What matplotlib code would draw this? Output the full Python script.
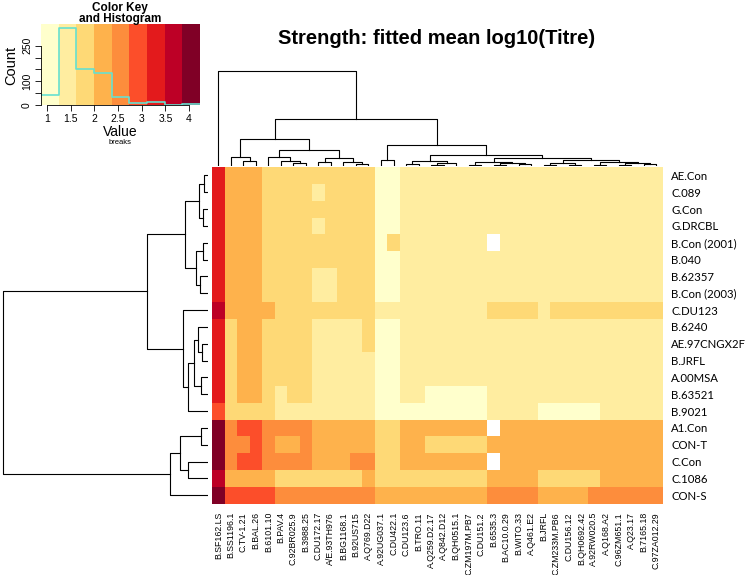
import numpy as np
import matplotlib
matplotlib.use("Agg")
import matplotlib.pyplot as plt
from matplotlib.colors import ListedColormap, BoundaryNorm

nan = np.nan

col_labels = ["B.SF162.LS", "B.SS1196.1", "C.TV-1.21", "B.BAL.26", "B.6101.10", "B.PAV.4",
              "C.92BR025.9", "B.3988.25", "C.DU172.17", "A/E.93TH976", "B.BG1168.1", "B.92US715",
              "A.Q769.D22", "A.92UG037.1", "C.DU422.1", "C.DU123.6", "B.TRO.11", "A.Q259.D2.17",
              "A.Q842.D12", "B.QH0515.1", "C.ZM197M.PB7", "C.DU151.2", "B.6535.3", "B.AC10.0.29",
              "B.WITO.33", "A.Q461.E2", "B.JRFL", "C.ZM233M.PB6", "C.DU156.12", "B.QH0692.42",
              "A.92RW020.5", "A.Q168.A2", "C.96ZM651.1", "A.Q23.17", "B.7165.18", "C.97ZA012.29"]

row_labels = ["AE.Con", "C.089", "G.Con", "G.DRCBL", "B.Con (2001)", "B.040", "B.62357",
              "B.Con (2003)", "C.DU123", "B.6240", "AE.97CNGX2F", "B.JRFL", "A.00MSA",
              "B.63521", "B.9021", "A1.Con", "CON-T", "C.Con", "C.1086", "CON-S"]

# fitted mean log10(titre), rows x columns (as displayed)
titre = [
    [3.30, 2.15, 2.15, 2.15, 1.80, 1.80, 1.80, 1.80, 1.80, 1.80, 1.80, 1.80,
     1.80, 1.05, 1.05, 1.45, 1.45, 1.45, 1.45, 1.45, 1.45, 1.45, 1.45, 1.45,
     1.45, 1.45, 1.45, 1.45, 1.45, 1.45, 1.45, 1.45, 1.45, 1.45, 1.45, 1.45],
    [3.30, 2.15, 2.15, 2.15, 1.80, 1.80, 1.80, 1.80, 1.45, 1.80, 1.80, 1.80,
     1.80, 1.05, 1.05, 1.45, 1.45, 1.45, 1.45, 1.45, 1.45, 1.45, 1.45, 1.45,
     1.45, 1.45, 1.45, 1.45, 1.45, 1.45, 1.45, 1.45, 1.45, 1.45, 1.45, 1.45],
    [3.30, 2.15, 2.15, 2.15, 1.80, 1.80, 1.80, 1.80, 1.80, 1.80, 1.80, 1.80,
     1.80, 1.05, 1.05, 1.45, 1.45, 1.45, 1.45, 1.45, 1.45, 1.45, 1.45, 1.45,
     1.45, 1.45, 1.45, 1.45, 1.45, 1.45, 1.45, 1.45, 1.45, 1.45, 1.45, 1.45],
    [3.30, 2.15, 2.15, 2.15, 1.80, 1.80, 1.80, 1.80, 1.45, 1.80, 1.80, 1.80,
     1.80, 1.05, 1.05, 1.45, 1.45, 1.45, 1.45, 1.45, 1.45, 1.45, 1.45, 1.45,
     1.45, 1.45, 1.45, 1.45, 1.45, 1.45, 1.45, 1.45, 1.45, 1.45, 1.45, 1.45],
    [3.30, 2.15, 2.15, 2.15, 1.80, 1.80, 1.80, 1.80, 1.80, 1.80, 1.80, 1.80,
     1.80, 1.05, 1.80, 1.45, 1.45, 1.45, 1.45, 1.45, 1.45, 1.45, nan, 1.45,
     1.45, 1.45, 1.45, 1.45, 1.45, 1.45, 1.45, 1.45, 1.45, 1.45, 1.45, 1.45],
    [3.30, 2.15, 2.15, 2.15, 1.80, 1.80, 1.80, 1.80, 1.80, 1.80, 1.80, 1.80,
     1.80, 1.05, 1.05, 1.45, 1.45, 1.45, 1.45, 1.45, 1.45, 1.45, 1.45, 1.45,
     1.45, 1.45, 1.45, 1.45, 1.45, 1.45, 1.45, 1.45, 1.45, 1.45, 1.45, 1.45],
    [3.30, 2.15, 2.15, 2.15, 1.80, 1.80, 1.80, 1.80, 1.45, 1.45, 1.80, 1.80,
     1.80, 1.05, 1.05, 1.45, 1.45, 1.45, 1.45, 1.45, 1.45, 1.45, 1.45, 1.45,
     1.45, 1.45, 1.45, 1.45, 1.45, 1.45, 1.45, 1.45, 1.45, 1.45, 1.45, 1.45],
    [3.30, 2.15, 2.15, 2.15, 1.80, 1.80, 1.80, 1.80, 1.45, 1.45, 1.80, 1.80,
     1.80, 1.05, 1.05, 1.45, 1.45, 1.45, 1.45, 1.45, 1.45, 1.45, 1.45, 1.45,
     1.45, 1.45, 1.45, 1.45, 1.45, 1.45, 1.45, 1.45, 1.45, 1.45, 1.45, 1.45],
    [3.70, 2.15, 2.15, 2.15, 2.15, 1.80, 1.80, 1.80, 1.80, 1.80, 1.80, 1.80,
     1.80, 1.45, 1.45, 1.45, 1.45, 1.45, 1.45, 1.45, 1.45, 1.45, 1.80, 1.80,
     1.80, 1.80, 1.45, 1.80, 1.80, 1.80, 1.80, 1.80, 1.80, 1.80, 1.80, 1.80],
    [3.30, 1.80, 2.15, 2.15, 1.80, 1.80, 1.80, 1.80, 1.45, 1.45, 1.45, 1.45,
     1.80, 1.05, 1.05, 1.45, 1.45, 1.45, 1.45, 1.45, 1.45, 1.45, 1.45, 1.45,
     1.45, 1.45, 1.45, 1.45, 1.45, 1.45, 1.45, 1.45, 1.45, 1.45, 1.45, 1.45],
    [3.30, 1.80, 2.15, 2.15, 1.80, 1.80, 1.80, 1.80, 1.45, 1.45, 1.45, 1.45,
     1.80, 1.05, 1.05, 1.45, 1.45, 1.45, 1.45, 1.45, 1.45, 1.45, 1.45, 1.45,
     1.45, 1.45, 1.45, 1.45, 1.45, 1.45, 1.45, 1.45, 1.45, 1.45, 1.45, 1.45],
    [3.30, 1.80, 2.15, 2.15, 1.80, 1.80, 1.80, 1.80, 1.45, 1.45, 1.45, 1.45,
     1.45, 1.05, 1.05, 1.45, 1.45, 1.45, 1.45, 1.45, 1.45, 1.45, 1.45, 1.45,
     1.45, 1.45, 1.45, 1.45, 1.45, 1.45, 1.45, 1.45, 1.45, 1.45, 1.45, 1.45],
    [3.30, 1.80, 2.15, 2.15, 1.80, 1.80, 1.80, 1.80, 1.45, 1.45, 1.45, 1.45,
     1.45, 1.05, 1.05, 1.45, 1.45, 1.45, 1.45, 1.45, 1.45, 1.45, 1.45, 1.45,
     1.45, 1.45, 1.45, 1.45, 1.45, 1.45, 1.45, 1.45, 1.45, 1.45, 1.45, 1.45],
    [3.30, 1.80, 2.15, 2.15, 1.80, 1.45, 1.80, 1.80, 1.45, 1.45, 1.45, 1.45,
     1.45, 1.05, 1.05, 1.45, 1.45, 1.05, 1.05, 1.05, 1.05, 1.05, 1.45, 1.45,
     1.45, 1.45, 1.45, 1.45, 1.45, 1.45, 1.45, 1.45, 1.45, 1.45, 1.45, 1.45],
    [2.95, 1.80, 1.80, 1.80, 1.80, 1.45, 1.45, 1.45, 1.45, 1.45, 1.45, 1.45,
     1.45, 1.05, 1.05, 1.05, 1.05, 1.05, 1.05, 1.05, 1.05, 1.05, 1.45, 1.45,
     1.45, 1.45, 1.05, 1.05, 1.05, 1.05, 1.05, 1.45, 1.45, 1.45, 1.45, 1.45],
    [4.05, 2.55, 2.95, 2.95, 2.55, 2.55, 2.55, 2.55, 2.15, 2.15, 2.15, 2.15,
     2.15, 1.80, 1.80, 2.15, 2.15, 2.15, 2.15, 2.15, 2.15, 2.15, nan, 2.15,
     2.15, 2.15, 2.15, 2.15, 2.15, 2.15, 2.15, 2.15, 2.15, 2.15, 2.15, 2.15],
    [4.05, 2.55, 2.55, 2.95, 2.55, 2.15, 2.15, 2.55, 2.15, 2.15, 2.15, 2.15,
     2.15, 1.80, 1.80, 2.15, 2.15, 1.80, 1.80, 1.80, 1.80, 1.80, 2.15, 2.15,
     2.15, 2.15, 2.15, 2.15, 2.15, 2.15, 2.15, 2.15, 2.15, 2.15, 2.15, 2.15],
    [4.05, 2.55, 2.95, 2.95, 2.55, 2.55, 2.55, 2.55, 2.15, 2.15, 2.15, 2.55,
     2.55, 1.80, 1.80, 2.15, 2.15, 2.15, 2.15, 2.15, 2.15, 2.15, nan, 2.15,
     2.15, 2.15, 2.15, 2.15, 2.15, 2.15, 2.15, 2.15, 2.15, 2.15, 2.15, 2.15],
    [3.70, 2.15, 2.15, 2.15, 2.15, 1.80, 1.80, 1.80, 1.80, 1.80, 1.80, 1.80,
     2.15, 1.80, 1.80, 1.80, 1.80, 1.80, 1.80, 1.80, 1.80, 1.80, 2.15, 2.15,
     2.15, 2.15, 1.80, 1.80, 1.80, 1.80, 1.80, 2.15, 2.15, 2.15, 2.15, 2.15],
    [4.05, 2.95, 2.95, 2.95, 2.95, 2.55, 2.55, 2.55, 2.55, 2.55, 2.55, 2.55,
     2.55, 2.15, 2.15, 2.15, 2.15, 2.15, 2.15, 2.15, 2.15, 2.15, 2.55, 2.55,
     2.55, 2.55, 2.15, 2.15, 2.15, 2.15, 2.55, 2.55, 2.55, 2.55, 2.55, 2.55],
]

# colour breaks of the key
breaks = [0.87, 1.243, 1.617, 1.99, 2.363, 2.737, 3.11, 3.483, 3.857, 4.23]
colors = ['#FFFFCC', '#FFEDA0', '#FED976', '#FEB24C', '#FD8D3C',
          '#FC4E2A', '#E31A1C', '#BD0026', '#800026']
key_ticks = [1, 1.5, 2, 2.5, 3, 3.5, 4]
count_ticks = [0, 50, 100, 150, 200, 250]
count_labels = ["0", "", "100", "", "", "250"]

# column dendrogram merges: (node a, node b, height); leaves 0..35, new nodes from 36
col_merges = [
    (6, 7, 3), (5, 36, 5), (4, 37, 9.3),                       # 36,37,38
    (11, 12, 2.5), (10, 39, 4.5), (8, 9, 4), (41, 40, 7.7),      # 39,40,41,42
    (38, 42, 16), (2, 3, 5), (1, 44, 8.7), (45, 43, 27.3),       # 43,44,45,46
    (13, 14, 6),                                                 # 47
    (15, 16, 2), (17, 18, 1.5), (49, 19, 3), (48, 50, 5),        # 48,49,50,51
    (20, 21, 1.5), (22, 23, 1.5), (24, 25, 2), (53, 54, 3), (52, 55, 4),  # 52..56
    (26, 27, 1.5), (28, 29, 1.5), (57, 58, 3),                   # 57,58,59
    (30, 31, 1.5), (32, 33, 1.5), (34, 35, 2), (61, 62, 3), (60, 63, 4),  # 60..64
    (59, 64, 6), (56, 65, 8), (51, 66, 10.7),                    # 65,66,67
    (47, 67, 20.7), (46, 68, 47.3), (0, 69, 95),                 # 68,69,70
]

# row dendrogram merges: leaves 0..19, new nodes from 20
row_merges = [
    (0, 1, 4), (2, 3, 5), (20, 21, 9), (4, 5, 5), (6, 7, 8),    # 20..24
    (23, 24, 12), (22, 25, 23),                                 # 25,26
    (10, 11, 6), (9, 27, 10), (12, 13, 7), (28, 29, 14), (30, 14, 20),  # 27..31
    (8, 31, 25), (26, 32, 61),                                  # 32,33
    (15, 16, 7), (17, 18, 20), (34, 35, 28), (36, 19, 38),      # 34..37
    (33, 37, 205),                                              # 38
]

W, H = 750, 575
fig = plt.figure(figsize=(W / 100, H / 100), dpi=100)
SANS = ['Liberation Sans', 'DejaVu Sans']


def fax(x0, y0, x1, y1):
    return fig.add_axes([x0 / W, 1 - y1 / H, (x1 - x0) / W, (y1 - y0) / H])


data = np.array(titre, dtype=float)
nr, nc = data.shape
cmap = ListedColormap(colors)
cmap.set_bad('white')
norm = BoundaryNorm(breaks, cmap.N)

hx0, hx1, hy0, hy1 = 212, 662.7, 167, 503.7
ax = fax(hx0, hy0, hx1, hy1)
ax.pcolormesh(np.arange(nc + 1) - 0.5, np.arange(nr + 1) - 0.5,
              np.ma.masked_invalid(data), cmap=cmap, norm=norm)
ax.set_xlim(-0.5, nc - 0.5)
ax.set_ylim(nr - 0.5, -0.5)
for s in ax.spines.values():
    s.set_visible(False)
ax.set_xticks(range(nc))
ax.set_xticklabels(col_labels, rotation=90, fontsize=6.3, family=SANS)
ax.yaxis.tick_right()
ax.set_yticks(range(nr))
ax.set_yticklabels(row_labels, fontsize=8.2, family=['Lato', 'DejaVu Sans'])
ax.tick_params(length=0)
ax.tick_params(axis='x', pad=6)
ax.tick_params(axis='y', pad=6)


def draw_dendro(a, merges, n, orient):
    pos = {i: float(i) for i in range(n)}
    hgt = {i: 0.0 for i in range(n)}
    for k, (p, q, h) in enumerate(merges):
        xa, xb, ha, hb = pos[p], pos[q], hgt[p], hgt[q]
        if orient == 'top':
            a.plot([xa, xa, xb, xb], [ha, h, h, hb], color='black', lw=0.8)
        else:
            a.plot([ha, h, h, hb], [xa, xa, xb, xb], color='black', lw=0.8)
        pos[n + k] = (xa + xb) / 2
        hgt[n + k] = h


axc = fax(hx0, 68, hx1, 166)
draw_dendro(axc, col_merges, nc, 'top')
axc.set_xlim(-0.5, nc - 0.5)
axc.set_ylim(0, 98)
axc.axis('off')

axr = fax(0, hy0, 208, hy1)
draw_dendro(axr, row_merges, nr, 'left')
axr.set_xlim(208, 0)
axr.set_ylim(nr - 0.5, -0.5)
axr.axis('off')

fig.text(437 / W, 1 - 38 / H, "Strength: fitted mean log10(Titre)",
         ha='center', va='center', fontsize=14.5, fontweight='bold', family=SANS)

# colour key with histogram
axk = fax(41, 24, 200, 105)
vals = data[~np.isnan(data)]
counts, _ = np.histogram(vals, bins=breaks)
for i in range(len(colors)):
    axk.axvspan(breaks[i], breaks[i + 1], color=colors[i], lw=0)
axk.step(breaks, list(counts) + [counts[-1]], where='post', color='#66E0D0', lw=1.2)
axk.set_xlim(breaks[0], breaks[-1])
axk.set_ylim(0, counts.max() / 0.95)
axk.set_xticks(key_ticks)
axk.set_xticklabels([f"{t:g}" for t in key_ticks], fontsize=7.5, family=SANS)
axk.set_yticks(count_ticks)
axk.set_yticklabels(count_labels, fontsize=7.5, family=SANS)
plt.setp(axk.get_yticklabels(), rotation=90, va='center', ha='right')
axk.tick_params(length=4, width=0.6, pad=2.5)
for s in ['top', 'right']:
    axk.spines[s].set_visible(False)
axk.spines['left'].set_bounds(0, 250)
axk.spines['bottom'].set_bounds(1, 4)
axk.spines['left'].set_linewidth(0.6)
axk.spines['bottom'].set_linewidth(0.6)
fig.text(11 / W, 1 - 65 / H, "Count", rotation=90, ha='center', va='center',
         fontsize=10.5, family=SANS)
fig.text(120 / W, 1 - 132 / H, "Value", ha='center', va='center', fontsize=10, family=SANS)
fig.text(120 / W, 1 - 142 / H, "breaks", ha='center', va='center', fontsize=5.5, family=SANS)
fig.text(120 / W, 1 - 8 / H, "Color Key", ha='center', va='center', fontsize=8.5,
         fontweight='bold', family=SANS)
fig.text(120 / W, 1 - 19 / H, "and Histogram", ha='center', va='center', fontsize=8.5,
         fontweight='bold', family=SANS)

fig.savefig("out.png", dpi=100)
